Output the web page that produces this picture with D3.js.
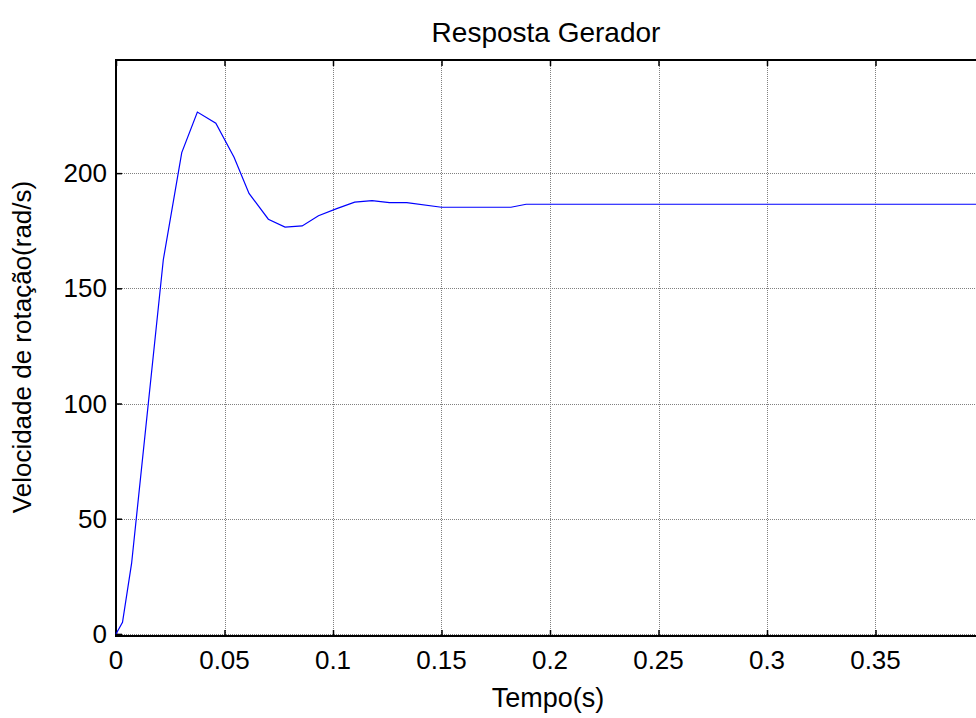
<!DOCTYPE html>
<html>
<head>
<meta charset="utf-8">
<script src="https://cdn.jsdelivr.net/npm/d3@7"></script>
<style>
  body { margin: 0; background: #fff; overflow: hidden; }
  text { font-family: "Liberation Sans", Arial, sans-serif; }
</style>
</head>
<body>
<div id="chart"></div>
<script>
// data
var tempo = [0, 0.003, 0.0072, 0.0218, 0.0303, 0.0375, 0.046, 0.0544, 0.0613, 0.0702,
             0.0779, 0.0858, 0.0933, 0.1017, 0.110, 0.118, 0.126, 0.134, 0.150, 0.182,
             0.189, 0.4];
var velocidade = [0, 5, 30.7, 162.4, 208.9, 226.5, 221.7, 206.9, 191.2, 180.0,
                  176.6, 177.1, 181.5, 184.6, 187.4, 188.1, 187.2, 187.2, 185.2, 185.2,
                  186.5, 186.5];
var xTicks = [0, 0.05, 0.1, 0.15, 0.2, 0.25, 0.3, 0.35];
var yTicks = [0, 50, 100, 150, 200];

var data = tempo.map(function (t, i) { return {t: t, v: velocidade[i]}; });

var W = 976, H = 718;
var pLeft = 116, pRight = 984, pTop = 60, pBottom = 636;

var svg = d3.select("#chart")
  .append("svg")
    .attr("width", W)
    .attr("height", H);

var x = d3.scaleLinear()
  .domain([0, 0.4])
  .range([pLeft, pRight]);

var y = d3.scaleLinear()
  .domain([-0.9, 249.1])
  .range([pBottom, pTop]);

// grid
var grid = svg.append("g")
  .attr("stroke", "#808080")
  .attr("stroke-width", 1)
  .attr("stroke-dasharray", "1,1");
grid.selectAll(".gx")
  .data(xTicks.slice(1))
  .enter().append("line")
    .attr("x1", function (d) { return Math.round(x(d)) + 0.5; })
    .attr("x2", function (d) { return Math.round(x(d)) + 0.5; })
    .attr("y1", pTop)
    .attr("y2", pBottom);
grid.selectAll(".gy")
  .data(yTicks)
  .enter().append("line")
    .attr("y1", function (d) { return Math.round(y(d)) + 0.5; })
    .attr("y2", function (d) { return Math.round(y(d)) + 0.5; })
    .attr("x1", pLeft)
    .attr("x2", pRight);

// axes, ticks inside
var axB = svg.append("g")
  .attr("transform", "translate(0," + pBottom + ")")
  .call(d3.axisTop(x).tickValues(xTicks).tickSize(6).tickFormat(""));
var axT = svg.append("g")
  .attr("transform", "translate(0," + pTop + ")")
  .call(d3.axisBottom(x).tickValues(xTicks).tickSize(6).tickFormat(""));
var axL = svg.append("g")
  .attr("transform", "translate(" + pLeft + ",0)")
  .call(d3.axisRight(y).tickValues(yTicks).tickSize(6).tickFormat(""));
[axB, axT, axL].forEach(function (a) {
  a.select(".domain").remove();
  a.selectAll("line").attr("stroke", "#000").attr("stroke-width", 1.5);
});

// frame
svg.append("path")
  .attr("d", "M" + pRight + "," + pTop + "H" + pLeft + "V" + pBottom + "H" + pRight)
  .attr("fill", "none")
  .attr("stroke", "#000")
  .attr("stroke-width", 2);

// tick labels
svg.append("g").selectAll("text")
  .data(xTicks)
  .enter().append("text")
    .attr("x", function (d) { return x(d); })
    .attr("y", 669)
    .attr("text-anchor", "middle")
    .attr("font-size", 26)
    .text(function (d) { return d3.format("")(d); });

svg.append("g").selectAll("text")
  .data(yTicks)
  .enter().append("text")
    .attr("x", 107)
    .attr("y", function (d) { return y(d) + 9; })
    .attr("text-anchor", "end")
    .attr("font-size", 26)
    .text(function (d) { return d; });

// the line
var line = d3.line()
  .x(function (d) { return x(d.t); })
  .y(function (d) { return y(d.v); });

svg.append("path")
  .datum(data)
  .attr("d", line)
  .attr("fill", "none")
  .attr("stroke", "#0000ff")
  .attr("stroke-width", 1.2);

// labels
svg.append("text")
  .attr("x", 546)
  .attr("y", 42)
  .attr("text-anchor", "middle")
  .attr("font-size", 28)
  .text("Resposta Gerador");

svg.append("text")
  .attr("x", 548)
  .attr("y", 707)
  .attr("text-anchor", "middle")
  .attr("font-size", 27)
  .text("Tempo(s)");

svg.append("text")
  .attr("transform", "translate(31,347) rotate(-90)")
  .attr("text-anchor", "middle")
  .attr("font-size", 26)
  .text("Velocidade de rotação(rad/s)");
</script>
</body>
</html>
